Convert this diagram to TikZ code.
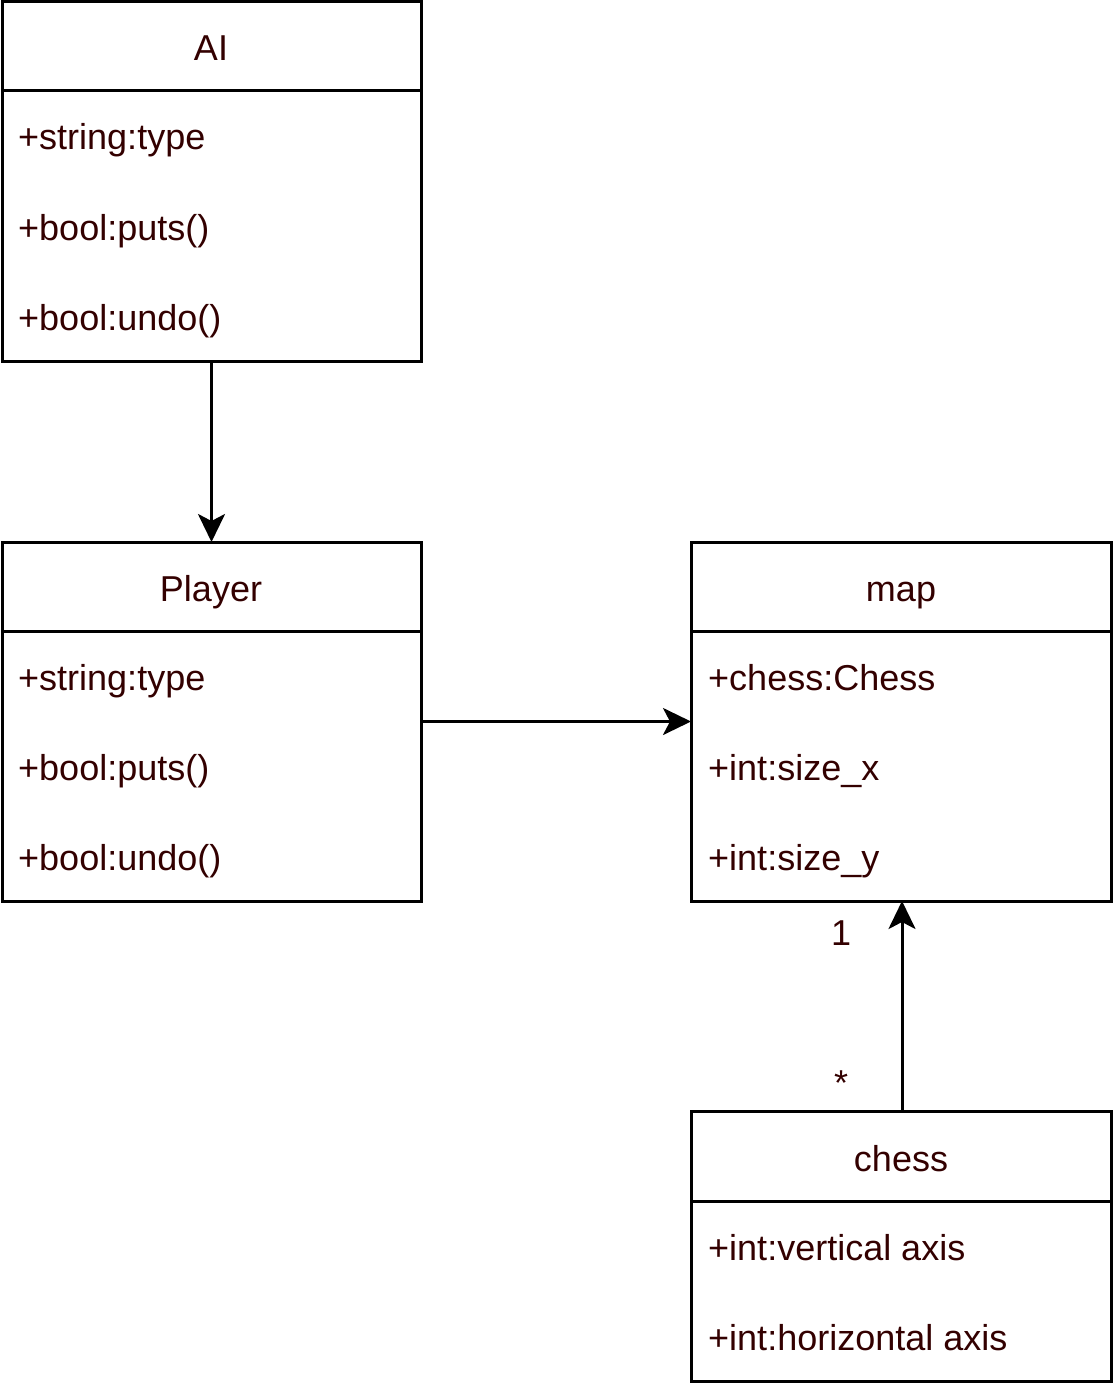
\documentclass[tikz,border=0pt]{standalone}
\usepackage{fontspec}
\setmainfont{Liberation Sans}
\usetikzlibrary{arrows.meta,calc}
\definecolor{txt}{HTML}{330000}
\tikzset{
  classbox/.style={draw=black, line width=3pt, minimum width=419pt, anchor=north west, inner sep=0pt, outer sep=0pt},
  hdr/.style={font=\fontsize{36}{42}\selectfont, text=txt, anchor=base, inner sep=0pt},
  attr/.style={font=\fontsize{36}{42}\selectfont, text=txt, anchor=base west, inner sep=0pt},
  sep/.style={line width=3pt},
  arr/.style={line width=3pt, -{Stealth[length=28pt, width=27pt, inset=7pt]}},
  lbl/.style={font=\fontsize{36}{42}\selectfont, text=txt, anchor=base, inner sep=0pt}
}
\begin{document}
\begin{tikzpicture}[x=1pt,y=-1pt]
\useasboundingbox (0,0) rectangle (1113,1383);
% AI
\node[classbox, minimum height=359pt] (ai) at (2,2) {};
\draw[sep] (2,91) -- (421,91);
\node[hdr] (aiT) at (211,61) {AI};
\node[attr] (ai1) at (18,150) {+string:type};
\node[attr] (ai2) at (18,240) {+bool:puts()};
\node[attr] (ai3) at (18,330) {+bool:undo()};
% Player
\node[classbox, minimum height=359pt] (player) at (2,542) {};
\draw[sep] (2,631) -- (421,631);
\node[hdr] (plT) at (211,601) {Player};
\node[attr] (pl1) at (18,690) {+string:type};
\node[attr] (pl2) at (18,780) {+bool:puts()};
\node[attr] (pl3) at (18,870) {+bool:undo()};
% map
\node[classbox, minimum height=359pt, minimum width=420pt] (map) at (691,542) {};
\draw[sep] (691,631) -- (1111,631);
\node[hdr] (mpT) at (901,601) {map};
\node[attr] (mp1) at (708,690) {+chess:Chess};
\node[attr] (mp2) at (708,780) {+int:size\_x};
\node[attr] (mp3) at (708,870) {+int:size\_y};
% chess
\node[classbox, minimum height=270pt, minimum width=420pt] (chess) at (691,1111) {};
\draw[sep] (691,1201) -- (1111,1201);
\node[hdr] (chT) at (901,1171) {chess};
\node[attr] (ch1) at (708,1260) {+int:vertical axis};
\node[attr] (ch2) at (708,1350) {+int:horizontal axis};
% connectors
\draw[arr] (ai.south) -- (player.north);
\draw[arr] (player.east) -- (map.west);
\draw[arr] ($(chess.north)+(1,0)$) -- ($(map.south)+(1,0)$);
\node[lbl] (one) at (841,945) {1};
\node[lbl] (star) at (841,1095) {*};
\end{tikzpicture}
\end{document}
